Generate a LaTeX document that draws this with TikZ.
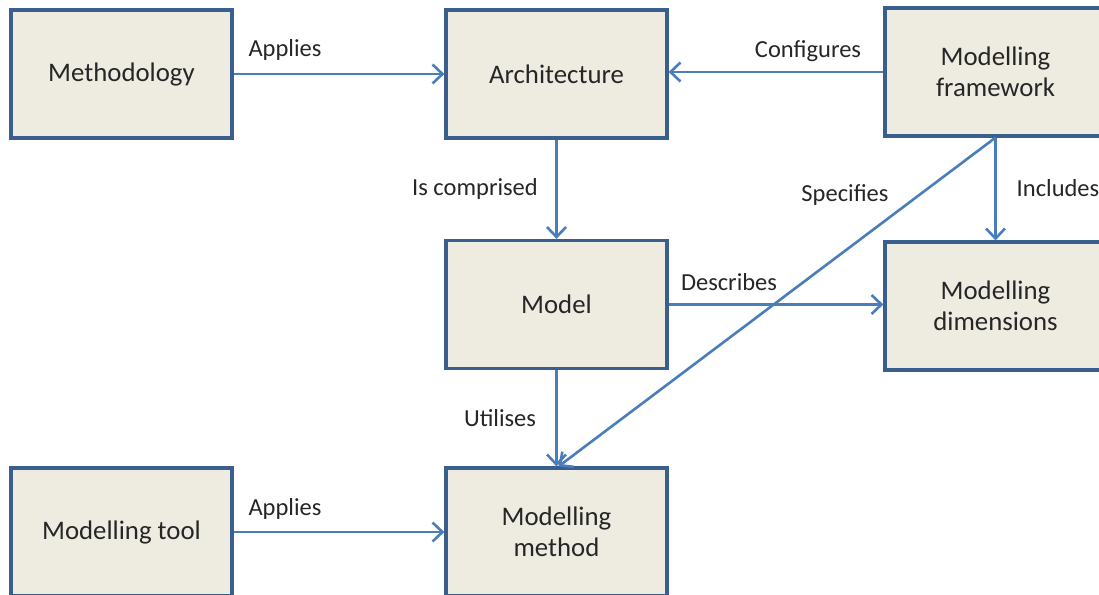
\documentclass[tikz,border=0pt]{standalone}
\usepackage{fontspec}
\setmainfont{Carlito}
\usetikzlibrary{arrows.meta}
\definecolor{boxfill}{HTML}{EEECE1}
\definecolor{boxline}{HTML}{3A5F8E}
\definecolor{linkblue}{HTML}{4A7EBB}
\begin{document}
\begin{tikzpicture}[x=1pt,y=-1pt,
  concept/.style={draw=boxline, line width=3.2pt, fill=boxfill,
    minimum width=221pt, minimum height=128pt, inner sep=0pt,
    align=center, font=\fontsize{26.8}{31}\selectfont, text=black!85},
  relation/.style={font=\fontsize{24.5}{28}\selectfont, text=black!85, inner sep=0pt},
  link/.style={draw=linkblue, line width=2.6pt,
    -{Straight Barb[length=10pt,width=19pt,line width=2.6pt]}}]
\useasboundingbox (0,0) rectangle (1099,594);
\begin{scope}
\clip (0,0) rectangle (1099,594);
% concept boxes
\node[concept] (meth)   at (121.5,74)  {Methodology};
\node[concept] (arch)   at (556.5,74)  {Architecture};
\node[concept] (fw)     at (995.5,72)  {Modelling\\framework};
\node[concept] (model)  at (556.5,304.5) {Model};
\node[concept] (dim)    at (995.5,306) {Modelling\\dimensions};
\node[concept] (tool)   at (121.5,532) {Modelling tool};
\node[concept] (method) at (556.5,532) {Modelling\\method};
% relations
\draw[link] (meth.east) -- (arch.west);
\draw[link] (fw.west) -- (fw.west -| arch.east);
\draw[link] (arch.south) -- (model.north);
\draw[link] (fw.south) -- (dim.north);
\draw[link] (fw.south) -- ([xshift=2pt]method.north);
\draw[link] (model.east) -- (model.east -| dim.west);
\draw[link] (model.south) -- (method.north);
\draw[link] (tool.east) -- (method.west);
% relation labels
\node[relation] (lApplyA)    at (285,50)   {Applies};
\node[relation] (lConfig)    at (808,51)   {Configures};
\node[relation] (lComprised) at (475,189)  {Is comprised};
\node[relation] (lSpecifies) at (845,195)  {Specifies};
\node[relation] (lIncludes)  at (1058,188) {Includes};
\node[relation] (lDescribes) at (729,282)  {Describes};
\node[relation] (lUtilises)  at (500,418)  {Utilises};
\node[relation] (lApplyB)    at (285,509)  {Applies};
\end{scope}
\end{tikzpicture}
\end{document}
